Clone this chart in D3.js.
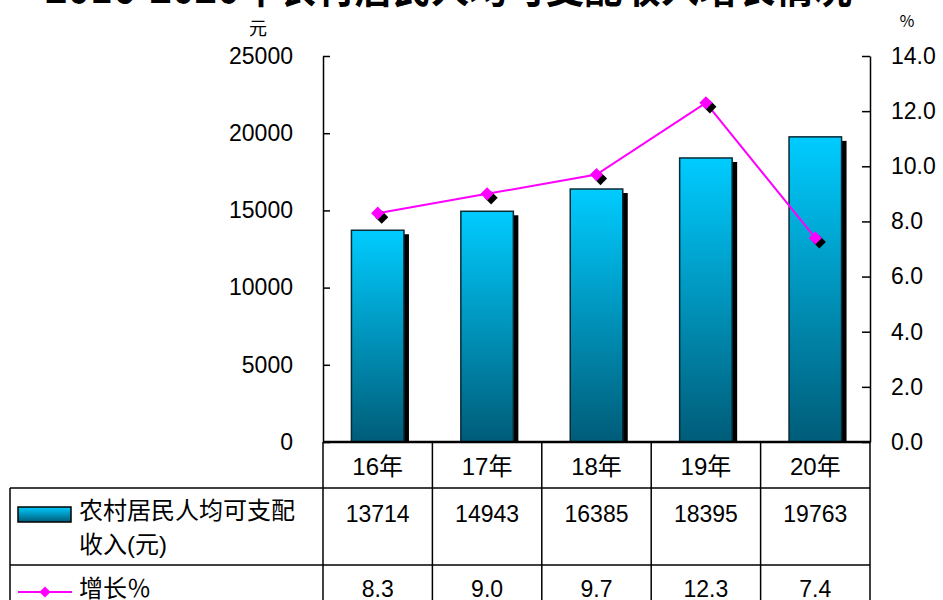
<!DOCTYPE html>
<html lang="zh">
<head>
    <meta charset="UTF-8">
    <title>2016-2020年农村居民人均可支配收入增长情况</title>
    <script src="https://d3js.org/d3.v7.min.js"></script>
    <style>
        body { margin: 0; background: #fff; }
        svg { display: block; }
        .tick text { font-family: "Liberation Sans", Arial, sans-serif; font-size: 23px; fill: #000; }
        .cell { font-family: "Liberation Sans", "Noto Sans CJK SC", sans-serif; fill: #000; }
    </style>
</head>
<body>
<svg id="chart" width="943" height="600"></svg>
<script>
    // data
    const years = ["16年", "17年", "18年", "19年", "20年"];
    const income = [13714, 14943, 16385, 18395, 19763];
    const growth = [8.3, 9.0, 9.7, 12.3, 7.4];
    const leftTicks = [0, 5000, 10000, 15000, 20000, 25000];
    const rightTicks = [0, 2, 4, 6, 8, 10, 12, 14];
    const seriesNames = ["农村居民人均可支配", "收入(元)"];
    const growthName = "增长％";

    const svg = d3.select("#chart");
    const CJK = '"Noto Sans CJK SC", sans-serif';

    const plotL = 323, plotR = 870, plotT = 56, base = 442;
    const tableLeft = 10;
    const rowCat = 488, rowVal = 565, rowEnd = 620;

    const x = d3.scaleBand().domain(years).range([plotL, plotR]).padding(0);
    const y = d3.scaleLinear().domain([0, 25000]).range([base, plotT]);
    const y2 = d3.scaleLinear().domain([0, 14]).range([base, plotT]);

    // gradient for bars
    const defs = svg.append("defs");
    const grad = defs.append("linearGradient")
        .attr("id", "barGrad").attr("x1", 0).attr("y1", 0).attr("x2", 0).attr("y2", 1);
    grad.append("stop").attr("offset", "0%").attr("stop-color", "#00ccff");
    grad.append("stop").attr("offset", "100%").attr("stop-color", "#005c78");

    // title (mostly cut off at the top)
    svg.append("text")
        .attr("x", 45).attr("y", 3)
        .attr("font-family", CJK)
        .attr("font-size", 40)
        .attr("font-weight", "bold")
        .attr("textLength", 807)
        .attr("lengthAdjust", "spacingAndGlyphs")
        .text("2016-2020年农村居民人均可支配收入增长情况");

    // units
    svg.append("text").attr("x", 258).attr("y", 35).attr("text-anchor", "middle")
        .attr("font-family", CJK).attr("font-size", 18).text("元");
    svg.append("text").attr("x", 907).attr("y", 27).attr("text-anchor", "middle")
        .attr("font-family", CJK).attr("font-size", 16).text("％");

    const bw = x.bandwidth() * 0.48;

    // bar shadows
    svg.append("g").selectAll("rect").data(income).join("rect")
        .attr("x", (d, i) => x(years[i]) + (x.bandwidth() - bw) / 2 + 5)
        .attr("y", d => y(d) + 4)
        .attr("width", bw)
        .attr("height", d => base - y(d) - 4)
        .attr("fill", "#000");

    // bars
    svg.append("g").selectAll("rect").data(income).join("rect")
        .attr("x", (d, i) => x(years[i]) + (x.bandwidth() - bw) / 2)
        .attr("y", d => y(d))
        .attr("width", bw)
        .attr("height", d => base - y(d))
        .attr("fill", "url(#barGrad)")
        .attr("stroke", "#0a2a36")
        .attr("stroke-width", 1.5);

    // growth line
    const cx = (d, i) => x(years[i]) + x.bandwidth() / 2;
    svg.append("path")
        .datum(growth)
        .attr("fill", "none")
        .attr("stroke", "#ff00ff")
        .attr("stroke-width", 2)
        .attr("d", d3.line().x(cx).y(d => y2(d)));

    const diamond = d3.symbol().type(d3.symbolDiamond2).size(110);
    svg.append("g").selectAll("path").data(growth).join("path")
        .attr("transform", (d, i) => `translate(${cx(d, i) + 4},${y2(d) + 4})`)
        .attr("d", diamond).attr("fill", "#000");
    svg.append("g").selectAll("path").data(growth).join("path")
        .attr("transform", (d, i) => `translate(${cx(d, i)},${y2(d)})`)
        .attr("d", diamond).attr("fill", "#ff00ff");

    // axes
    const gl = svg.append("g").attr("transform", `translate(${plotL},0)`)
        .call(d3.axisLeft(y).tickValues(leftTicks).tickFormat(d3.format("d"))
            .tickSizeInner(-7).tickSizeOuter(0).tickPadding(30));
    const gr = svg.append("g").attr("transform", `translate(${plotR},0)`)
        .call(d3.axisRight(y2).tickValues(rightTicks).tickFormat(d3.format(".1f"))
            .tickSizeInner(-8).tickSizeOuter(0).tickPadding(21));
    [gl, gr].forEach(g => {
        g.select(".domain").attr("stroke", "#000").attr("stroke-width", 1.5);
        g.selectAll(".tick line").attr("stroke", "#000").attr("stroke-width", 1.5);
    });

    // data table
    const grid = svg.append("g").attr("stroke", "#000").attr("stroke-width", 1.5);
    grid.append("line").attr("x1", plotL).attr("x2", plotR).attr("y1", base).attr("y2", base)
        .attr("stroke-width", 2.5);
    grid.append("line").attr("x1", tableLeft).attr("x2", plotR).attr("y1", rowCat).attr("y2", rowCat);
    grid.append("line").attr("x1", tableLeft).attr("x2", plotR).attr("y1", rowVal).attr("y2", rowVal);
    grid.append("line").attr("x1", tableLeft).attr("x2", tableLeft).attr("y1", rowCat).attr("y2", rowEnd);
    const bounds = years.map(d => x(d)).concat([plotR]);
    grid.selectAll("line.col").data(bounds).join("line")
        .attr("class", "col")
        .attr("x1", d => d).attr("x2", d => d)
        .attr("y1", base).attr("y2", rowEnd);

    svg.append("g").selectAll("text").data(years).join("text")
        .attr("class", "cell")
        .attr("x", d => x(d) + x.bandwidth() / 2).attr("y", 475)
        .attr("text-anchor", "middle").attr("font-size", 24)
        .text(d => d);
    svg.append("g").selectAll("text").data(income).join("text")
        .attr("class", "cell")
        .attr("x", (d, i) => x(years[i]) + x.bandwidth() / 2).attr("y", 522)
        .attr("text-anchor", "middle").attr("font-size", 23)
        .text(d => d);
    svg.append("g").selectAll("text").data(growth).join("text")
        .attr("class", "cell")
        .attr("x", (d, i) => x(years[i]) + x.bandwidth() / 2).attr("y", 597)
        .attr("text-anchor", "middle").attr("font-size", 23)
        .text(d => d3.format(".1f")(d));

    // legend cells
    svg.append("rect").attr("x", 18).attr("y", 507).attr("width", 53).attr("height", 15)
        .attr("fill", "url(#barGrad)").attr("stroke", "#000").attr("stroke-width", 1.5);
    svg.append("g").selectAll("text").data(seriesNames).join("text")
        .attr("class", "cell")
        .attr("x", 79).attr("y", (d, i) => 519 + i * 34)
        .attr("font-size", 24)
        .text(d => d);

    svg.append("line").attr("x1", 18).attr("x2", 72).attr("y1", 592).attr("y2", 592)
        .attr("stroke", "#ff00ff").attr("stroke-width", 2);
    svg.append("path").attr("transform", "translate(45,592)")
        .attr("d", d3.symbol().type(d3.symbolDiamond2).size(80)).attr("fill", "#ff00ff");
    svg.append("text").attr("class", "cell")
        .attr("x", 79).attr("y", 597).attr("font-size", 24)
        .text(growthName);
</script>
</body>
</html>
